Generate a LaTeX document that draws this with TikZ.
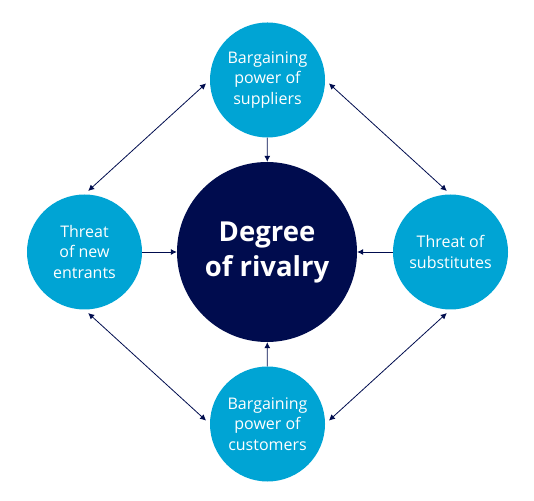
\documentclass[tikz,border=0pt]{standalone}
\usepackage{fontspec}
\setmainfont{Open Sans}
\usetikzlibrary{arrows.meta, positioning}
\definecolor{SkyBlue}{HTML}{00A4D4}
\definecolor{DeepNavy}{HTML}{000C4E}

\begin{document}
\begin{tikzpicture}[
    x=1pt, y=1pt,
    force/.style={circle, fill=SkyBlue, minimum size=115pt, inner sep=0pt,
                  text=white, align=center, font=\fontsize{16}{20.5}\selectfont},
    rivalry/.style={circle, fill=DeepNavy, minimum size=180pt, inner sep=0pt,
                    text=white, align=center, font=\fontsize{27.5}{35}\selectfont\bfseries},
    link/.style={DeepNavy, line width=0.8pt, -{Latex[length=6pt,width=6pt]}},
    pair/.style={DeepNavy, line width=0.8pt,
                 {Latex[length=6pt,width=6pt]}-{Latex[length=6pt,width=6pt]},
                 shorten >=5pt, shorten <=5pt}
]
    \useasboundingbox (0,0) rectangle (534,500);

    % Centre circle
    \node[rivalry] at (267,248) (rivalry) {Degree\\of rivalry};

    % The four forces
    \node[force] at (267.5,420) (suppliers) {Bargaining\\power of\\suppliers};
    \node[force] at (84.5,248) (entrants) {Threat\\of new\\entrants};
    \node[force] at (450.5,248) (substitutes) {Threat of\\substitutes};
    \node[force] at (267.5,76) (customers) {Bargaining\\power of\\customers};

    % Arrows into the centre
    \draw[link] (suppliers) -- (rivalry);
    \draw[link] (entrants) -- (rivalry);
    \draw[link] (substitutes) -- (rivalry);
    \draw[link] (customers) -- (rivalry);

    % Arrows between the forces
    \draw[pair] (entrants.north) -- (suppliers.west);
    \draw[pair] (substitutes.north) -- (suppliers.east);
    \draw[pair] (entrants.south) -- (customers.west);
    \draw[pair] (substitutes.south) -- (customers.east);
\end{tikzpicture}
\end{document}
